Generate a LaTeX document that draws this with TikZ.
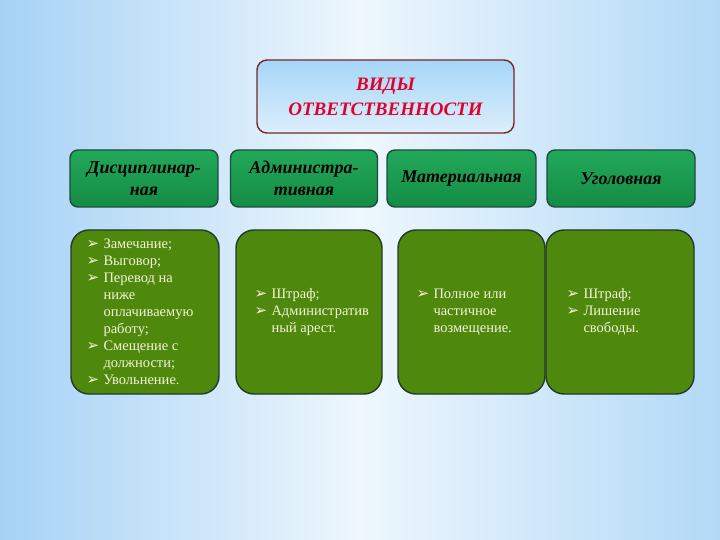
\documentclass[tikz,border=0pt]{standalone}
\usepackage{fontspec}
\setmainfont{Liberation Serif}
\newfontfamily\arrowfont{DejaVu Sans}
\usetikzlibrary{fadings}
\definecolor{bgblue}{HTML}{A6D2F5}
\definecolor{bgblueR}{HTML}{B2D9F7}
\definecolor{bglight}{HTML}{EEF7FD}
\definecolor{titleA}{HTML}{A6D6F8}
\definecolor{titleB}{HTML}{DCEFFC}
\definecolor{titleframe}{HTML}{7A2626}
\definecolor{titletext}{HTML}{E3002A}
\definecolor{headA}{HTML}{22A95A}
\definecolor{headB}{HTML}{148C44}
\definecolor{headframe}{HTML}{1E4A42}
\definecolor{bodyfill}{HTML}{4E890D}
\definecolor{bodyframe}{HTML}{22392C}
\definecolor{bodytext}{HTML}{F5F2D8}
\tikzfading[name=bandfade, top color=transparent!100, middle color=transparent!15, bottom color=transparent!100]
\newcommand{\blt}{\makebox[17pt][l]{\raisebox{0pt}{\arrowfont\fontsize{15}{15}\selectfont ➢}}}
\newcommand{\ind}{\hspace*{17pt}}
\tikzset{
  titlebox/.style={draw=titleframe, line width=1.4pt, rounded corners=10pt,
    top color=titleA, bottom color=titleB, minimum width=257pt, minimum height=73pt,
    align=center, text=titletext, font=\fontsize{19}{25}\selectfont\bfseries\itshape},
  headbox/.style={draw=headframe, line width=1.4pt, rounded corners=8pt,
    top color=headA, bottom color=headB, minimum height=57pt,
    align=center, text=black, font=\fontsize{18}{22}\selectfont\bfseries\itshape},
  bodybox/.style={draw=bodyframe, line width=1.4pt, rounded corners=18pt,
    fill=bodyfill, minimum height=164pt},
  bodytxt/.style={anchor=west, inner sep=0pt, align=left, text=bodytext,
    font=\fontsize{14.5}{17}\selectfont}
}
\begin{document}
\begin{tikzpicture}[x=1pt,y=-1pt]
\useasboundingbox (0,0) rectangle (720,540);
% background
\shade[left color=bgblue, right color=bgblueR, middle color=bglight] (0,0) rectangle (720,540);
\fill[white, path fading=bandfade] (0,340) rectangle (720,470);
\fill[white, path fading=bandfade, opacity=0.6] (120,-40) rectangle (600,160);
% title
\node[titlebox] (title) at (385.5,96.5) {ВИДЫ\\ОТВЕТСТВЕННОСТИ};
% headers
\node[headbox, minimum width=148pt] (h1) at (144,178.5) {Дисциплинар-\\ная};
\node[headbox, minimum width=147pt] (h2) at (304,178.5) {Администра-\\тивная};
\node[headbox, minimum width=149pt] (h3) at (461.5,178.5) {Материальная};
\node[headbox, minimum width=148pt] (h4) at (621,178.5) {Уголовная};
% bodies
\node[bodybox, minimum width=148pt] (b1) at (145,312) {};
\node[bodybox, minimum width=146pt] (b2) at (309,312) {};
\node[bodybox, minimum width=147pt] (b3) at (471.5,312) {};
\node[bodybox, minimum width=148pt] (b4) at (620,312) {};
% body texts
\node[bodytxt] (t1) at ([xshift=16pt]b1.west) {\blt Замечание;\\\blt Выговор;\\\blt Перевод на\\\ind ниже\\\ind оплачиваемую\\\ind работу;\\\blt Смещение с\\\ind должности;\\\blt Увольнение.};
\node[bodytxt] (t2) at ([xshift=19pt]b2.west) {\blt Штраф;\\\blt Административ\\\ind ный арест.};
\node[bodytxt] (t3) at ([xshift=19pt]b3.west) {\blt Полное или\\\ind частичное\\\ind возмещение.};
\node[bodytxt] (t4) at ([xshift=21pt]b4.west) {\blt Штраф;\\\blt Лишение\\\ind свободы.};
\end{tikzpicture}
\end{document}
